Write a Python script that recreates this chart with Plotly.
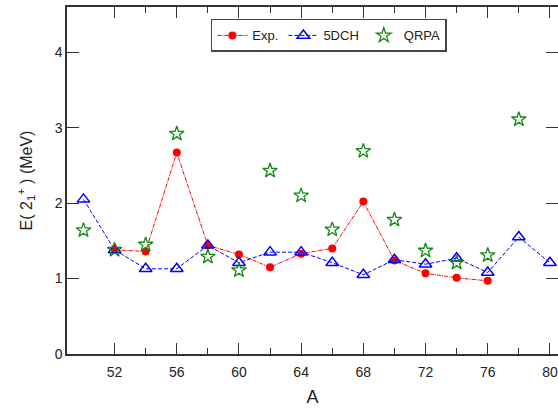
import plotly.graph_objects as go

# Data
exp_A = [52, 54, 56, 58, 60, 62, 64, 66, 68, 70, 72, 74, 76]
exp_E = [1.38, 1.36, 2.67, 1.44, 1.32, 1.15, 1.33, 1.40, 2.02, 1.24, 1.07, 1.01, 0.97]

dch_A = [50, 52, 54, 56, 58, 60, 62, 64, 66, 68, 70, 72, 74, 76, 78, 80]
dch_E = [2.05, 1.38, 1.13, 1.13, 1.44, 1.21, 1.35, 1.35, 1.21, 1.05, 1.25, 1.19, 1.27, 1.08, 1.55, 1.21]

qrpa_A = [50, 52, 54, 56, 58, 60, 62, 64, 66, 68, 70, 72, 74, 76, 78]
qrpa_E = [1.64, 1.38, 1.45, 2.92, 1.29, 1.11, 2.43, 2.10, 1.65, 2.69, 1.78, 1.37, 1.21, 1.31, 3.11]

x_ticks = [52, 56, 60, 64, 68, 72, 76, 80]
x_minor = [54, 58, 62, 66, 70, 74, 78]
y_ticks = [0, 1, 2, 3, 4]

FONT = "Liberation Sans, Arial, sans-serif"

fig = go.Figure()
fig.add_trace(go.Scatter(
    x=exp_A, y=exp_E, name="Exp.", mode="lines+markers",
    line=dict(color="#ff0000", width=1, dash="4px,1px,1px,1px"),
    marker=dict(symbol="circle", size=8, color="#ff0000"),
))
fig.add_trace(go.Scatter(
    x=dch_A, y=dch_E, name="5DCH", mode="lines+markers",
    line=dict(color="#0000ff", width=1, dash="4px,2px"),
    marker=dict(symbol="triangle-up-open", size=11, color="#0000ff",
                line=dict(width=1.5, color="#0000ff")),
))
fig.add_trace(go.Scatter(
    x=qrpa_A, y=qrpa_E, name="QRPA", mode="markers",
    marker=dict(symbol="star-open", size=11, color="#138a13",
                line=dict(width=1.3, color="#138a13")),
))

fig.update_layout(
    width=558, height=410,
    margin=dict(l=67, r=0, t=7, b=55.5),
    paper_bgcolor="white", plot_bgcolor="white",
    font=dict(family=FONT, size=14, color="#222222"),
    showlegend=True,
    legend=dict(
        orientation="h", x=0.293, y=0.9655, xanchor="left", yanchor="top",
        bordercolor="#444444", borderwidth=1.5, bgcolor="white",
        font=dict(size=13, family=FONT, color="#222222"),
    ),
    xaxis=dict(
        range=[48.94, 80.52], showgrid=False, zeroline=False, automargin=False,
        showline=True, linecolor="#333333", linewidth=1.5, mirror="ticks",
        ticks="inside", ticklen=11, tickwidth=1.2, tickcolor="#333333",
        tickmode="array", tickvals=x_ticks,
        minor=dict(tickmode="array", tickvals=x_minor, ticks="inside", ticklen=6,
                   tickwidth=1.2, tickcolor="#333333"),
        title=dict(text="A", font=dict(size=18), standoff=12),
        ticklabelstandoff=4,
    ),
    yaxis=dict(
        range=[0, 4.6], showgrid=False, zeroline=False, automargin=False,
        showline=True, linecolor="#333333", linewidth=1.5, mirror="ticks",
        ticks="inside", ticklen=12, tickwidth=1.2, tickcolor="#333333",
        tickmode="array", tickvals=y_ticks,
        title=dict(text="E( 2<sub>1</sub><sup>+</sup> ) (MeV)", font=dict(size=16), standoff=18),
    ),
)

fig.write_html("out.html", config={"displayModeBar": False},
               post_script="document.body.style.margin='0';document.body.style.overflow='hidden';")
